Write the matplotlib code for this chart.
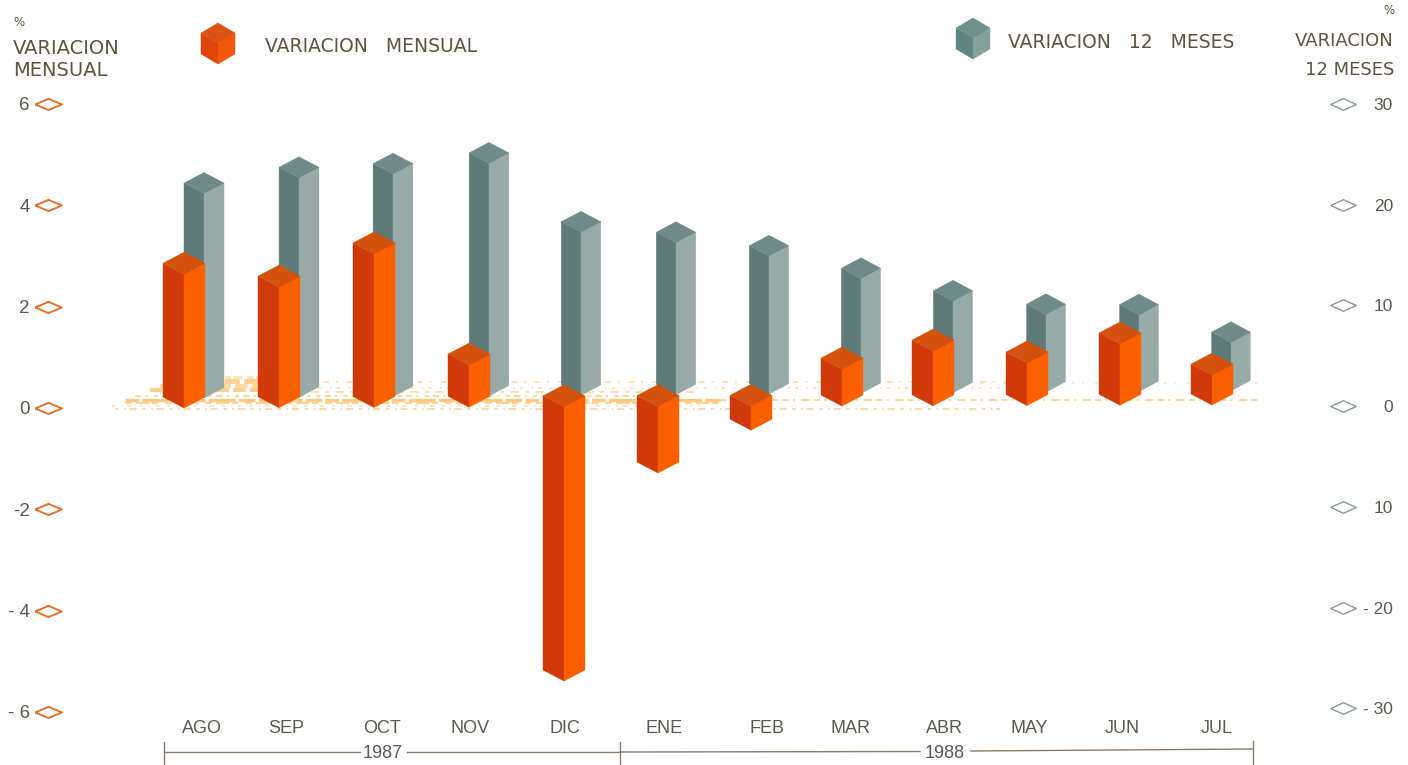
import matplotlib
matplotlib.use("Agg")
import matplotlib.pyplot as plt
from matplotlib.patches import Polygon

# ---------- data ----------
months = ["AGO", "SEP", "OCT", "NOV", "DIC", "ENE", "FEB", "MAR", "ABR", "MAY", "JUN", "JUL"]
var_mensual = [2.64, 2.38, 3.03, 0.83, -5.41, -1.31, -0.47, 0.73, 1.08, 0.84, 1.21, 0.59]
var_12_meses = [20.3, 21.8, 22.1, 23.1, 16.2, 15.1, 13.7, 11.4, 9.1, 7.7, 7.6, 4.8]
left_ticks = [-6, -4, -2, 0, 2, 4, 6]
left_labels = ["- 6", "- 4", "-2", "0", "2", "4", "6"]
right_ticks = [-30, -20, -10, 0, 10, 20, 30]
right_labels = ["- 30", "- 20", "10", "0", "10", "20", "30"]

# ---------- layout (pixels of the 1408x765 canvas) ----------
W, H = 1408, 765
AX_L, AX_R, AX_T, AX_B = 48, 1343, 104, 712
ORANGE_X = [184, 279, 374, 469, 564, 658, 751, 842, 933, 1027, 1120, 1212]
GRAY_X = [204, 299, 393, 489, 581, 676, 769, 861, 953, 1046, 1139, 1231]
LABEL_X = [202, 286, 382, 470, 565, 664, 767, 851, 944, 1029, 1122, 1217]
L_PX = (AX_B - AX_T) / 12.0      # px per left unit
R_TOP, R_BOT = 29.64, -30.37
R_PX = (AX_B - AX_T) / (R_TOP - R_BOT)
O_L, O_R, O_T = "#d03a0a", "#fb5f00", "#d4520c"
G_L, G_R, G_T = "#5f7a78", "#98aaa7", "#6f8a88"
TXT = "#5d5540"
NUM = "#5a5a50"
HEAD = dict(family="DejaVu Sans", color=TXT)
SANS = dict(family="Liberation Sans", color=NUM)

fig = plt.figure(figsize=(W / 100, H / 100), dpi=100, facecolor="white")
ax = fig.add_axes([AX_L / W, 1 - AX_B / H, (AX_R - AX_L) / W, (AX_B - AX_T) / H])
ax.set_xlim(AX_L, AX_R)
ax.set_ylim(-6, 6)
ax2 = ax.twinx()
ax2.set_ylim(R_BOT, R_TOP)
for a in (ax, ax2):
    a.patch.set_alpha(0)
    for s in a.spines.values():
        s.set_visible(False)


def ly(px):
    """canvas y pixel -> left-axis value"""
    return (408 - px) / L_PX


def ry(px):
    """canvas y pixel -> right-axis value"""
    return (404.3 - px) / R_PX


def prism(a, xc, base, value, hw, d, faces, z=3):
    top = max(base, base + value)
    bot = min(base, base + value)
    cl, cr, ct = faces
    a.add_patch(Polygon([(xc - hw, top + d), (xc, top), (xc, bot), (xc - hw, bot + d)],
                        fc=cl, ec=cl, lw=0.3, zorder=z, clip_on=False))
    a.add_patch(Polygon([(xc + hw, top + d), (xc, top), (xc, bot), (xc + hw, bot + d)],
                        fc=cr, ec=cr, lw=0.3, zorder=z, clip_on=False))
    a.add_patch(Polygon([(xc, top), (xc - hw, top + d), (xc, top + 2 * d), (xc + hw, top + d)],
                        fc=ct, ec=ct, lw=0.3, zorder=z, clip_on=False))


# ---------- speckled floor (broken pale strokes) ----------
floor = [
    (125, 720, 398, (4, 1, 8, 1, 5, 1), 2.4, "#f9cb80"),
    (125, 720, 401, (3, 2, 6, 1, 3, 3), 1.6, "#fbd498"),
    (115, 1000, 407, (2, 3, 1, 2, 4, 3), 1.3, "#fcd8a0"),
    (112, 700, 404, (2, 4, 1, 3, 3, 5), 1.1, "#fde0b0"),
    (135, 640, 394, (3, 2, 1, 3, 2, 2), 1.5, "#fcd8a0"),
    (300, 700, 390, (2, 3, 4, 3), 1.5, "#fde0b0"),
    (150, 265, 388, (3, 1, 5, 1), 3.0, "#fad090"),
    (160, 262, 384, (3, 1, 4, 1), 3.0, "#fbd9a0"),
    (205, 262, 379, (3, 1, 3, 1), 3.5, "#fad090"),
    (225, 262, 375, (2, 1, 3, 2), 2.0, "#fde0b0"),
    (300, 1010, 380, (3, 4, 1, 5), 1.3, "#fddcaa"),
    (300, 1000, 386, (2, 5, 1, 3), 1.2, "#fde0b4"),
    (720, 1258, 398, (3, 2, 1, 3, 4, 2), 1.5, "#fcd8a0"),
    (980, 1258, 381, (2, 5, 1, 7), 1.1, "#fde4c0"),
]
for x0, x1, y, dash, lw, col in floor:
    ax2.plot([x0, x1], [ry(y), ry(y)], color=col, lw=lw, dashes=dash, zorder=1)

# ---------- bars ----------
for i, v in enumerate(var_12_meses):
    base_px = 396 - 7 * i / 11
    hw = 20 - i * 0.06
    prism(ax2, GRAY_X[i], ry(base_px), v, hw, 10.5 / R_PX, (G_L, G_R, G_T), z=3)
ax2.set_zorder(2)
ax.set_zorder(3)
for i, v in enumerate(var_mensual):
    base_px = 408 - 3 * i / 11
    prism(ax, ORANGE_X[i], ly(base_px), v, 21, 11 / L_PX, (O_L, O_R, O_T), z=4)

# ---------- axes ----------
ax.set_yticks(left_ticks, left_labels, **SANS, fontsize=13.5)
ax.tick_params(axis="y", length=0, pad=13)
ax.set_xticks(LABEL_X, months, **SANS, fontsize=13)
ax.tick_params(axis="x", length=0, pad=6)
ax2.set_yticks(right_ticks, right_labels, **SANS, fontsize=12.5)
ax2.tick_params(axis="y", length=0, pad=36)
for t in ax2.get_yticklabels():
    t.set_horizontalalignment("right")

ax.scatter([0] * 7, left_ticks, transform=ax.get_yaxis_transform(), marker=(
    [(-1, 0), (0, 0.42), (1, 0), (0, -0.42), (-1, 0)]), s=370, fc="white", ec="#e8702a",
    lw=1.4, clip_on=False, zorder=5)
ax2.scatter([1] * 7, right_ticks, transform=ax2.get_yaxis_transform(), marker=(
    [(-1, 0), (0, 0.45), (1, 0), (0, -0.45), (-1, 0)]), s=340, fc="white", ec="#8a9a98",
    lw=1.0, clip_on=False, zorder=5)


def ptext(x, y, s, ha="left", **kw):
    fig.text(x / W, 1 - y / H, s, ha=ha, va="center", **kw)


# ---------- headers ----------
ptext(13, 22, "%", fontsize=8.5, **HEAD)
ptext(13, 48, "VARIACION", fontsize=14, **HEAD)
ptext(13, 71, "MENSUAL", fontsize=14, **HEAD)
ptext(1394, 11, "%", ha="right", fontsize=8.5, **HEAD)
ptext(1394, 41, "VARIACION", ha="right", fontsize=13, **HEAD)
ptext(1394, 70, "12 MESES", ha="right", fontsize=13, **HEAD)

# ---------- legend ----------
prism(ax, 218, ly(64), ly(43) - ly(64), 17, 10 / L_PX, ("#e04508", "#f4560a", "#dc5215"), z=4)
prism(ax, 973, ly(59), ly(38) - ly(59), 17, 10 / L_PX, ("#5f8580", "#86a19c", "#6f8f8a"), z=4)
ptext(371, 47, "VARIACION   MENSUAL", ha="center", fontsize=13.5, **HEAD)
ptext(1121, 43, "VARIACION   12   MESES", ha="center", fontsize=13.5, **HEAD)

# ---------- year bracket ----------
BR = "#8a7a68"
for x0, x1, y0, y1 in [(164, 360, 752, 752), (407, 620, 752, 752),
                       (620, 920, 752, 751.5), (971, 1253, 751, 749)]:
    ax.plot([x0, x1], [ly(y0), ly(y1)], color=BR, lw=1.0, clip_on=False, zorder=2)
for x, y0, y1 in [(164, 742, 765), (620, 742, 765), (1253, 741, 765)]:
    ax.plot([x, x], [ly(y0), ly(y1)], color=BR, lw=1.0, clip_on=False, zorder=2)
ptext(383, 753, "1987", ha="center", fontsize=13, **SANS)
ptext(945, 754, "1988", ha="center", fontsize=13, **SANS)

fig.savefig("out.png", dpi=100)
